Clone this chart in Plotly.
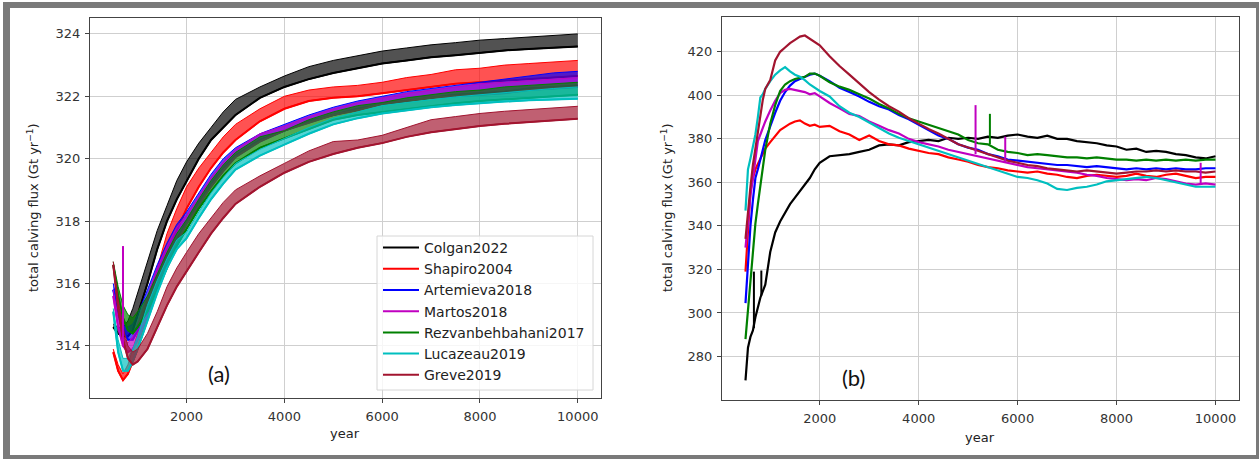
import plotly.graph_objects as go

# ---------------- data ----------------
names = ["Colgan2022", "Shapiro2004", "Artemieva2018", "Martos2018",
         "Rezvanbehbahani2017", "Lucazeau2019", "Greve2019"]
colors = ["#000000", "#ff0000", "#0000ff", "#c000c0", "#008000", "#00bfbf", "#a2142f"]
fill_rgba = ["rgba(0,0,0,0.68)", "rgba(255,0,0,0.68)", "rgba(0,0,255,0.68)", "rgba(192,0,192,0.68)",
             "rgba(0,128,0,0.68)", "rgba(0,191,191,0.68)", "rgba(162,20,47,0.68)"]

# panel (a): lower (base) curve and upper envelope of the spiky series
years_a = [500, 600, 700, 800, 900, 1000, 1200, 1400, 1600, 1800, 2000, 2250, 2500, 2750,
           3000, 3500, 4000, 4500, 5000, 5500, 6000, 6500, 7000, 7500, 8000, 8500, 9000,
           9500, 10000]
colgan_a_base = [314.6, 314.4, 314.3, 314.3, 314.5, 315.0, 316.0, 317.1, 318.0, 318.7, 319.3, 320.0,
                 320.6, 321.0, 321.4, 321.95, 322.3, 322.55, 322.75, 322.9, 323.05, 323.15, 323.25,
                 323.32, 323.4, 323.47, 323.52, 323.57, 323.6]
colgan_a_top = [314.7, 314.6, 314.6, 314.8, 315.2, 315.7, 316.7, 317.7, 318.5, 319.3, 319.9, 320.5,
                321.0, 321.5, 321.9, 322.3, 322.65, 322.95, 323.15, 323.3, 323.45, 323.55, 323.65,
                323.72, 323.8, 323.85, 323.9, 323.95, 324.0]
shapiro_a_base = [313.8, 313.2, 312.9, 313.1, 313.5, 313.9, 314.9, 315.8, 316.8, 317.7, 318.4, 319.1,
                  319.7, 320.2, 320.6, 321.2, 321.6, 321.85, 321.95, 322.0, 322.1, 322.2, 322.3,
                  322.4, 322.45, 322.5, 322.55, 322.6, 322.65]
shapiro_a_top = [313.9, 313.4, 313.1, 313.4, 313.9, 314.4, 315.5, 316.5, 317.6, 318.4, 319.1, 319.7,
                 320.2, 320.7, 321.1, 321.6, 322.0, 322.2, 322.3, 322.35, 322.45, 322.6, 322.7,
                 322.85, 322.9, 323.0, 323.05, 323.1, 323.15]
artemieva_a_base = [315.8, 315.0, 314.5, 314.2, 314.2, 314.5, 315.2, 316.0, 316.7, 317.4, 318.0, 318.6,
                    319.2, 319.7, 320.1, 320.6, 320.9, 321.2, 321.4, 321.6, 321.75, 321.85, 321.95,
                    322.05, 322.1, 322.15, 322.25, 322.3, 322.35]
artemieva_a_top = [316.0, 315.3, 314.8, 314.6, 314.7, 315.0, 315.8, 316.6, 317.3, 317.9, 318.3, 318.9,
                   319.5, 320.0, 320.35, 320.8, 321.1, 321.4, 321.65, 321.85, 322.0, 322.15, 322.25,
                   322.35, 322.45, 322.55, 322.65, 322.75, 322.8]
martos_a_base = [315.6, 314.6, 314.0, 313.8, 313.9, 314.2, 315.0, 315.9, 316.6, 317.3, 317.9, 318.5,
                 319.1, 319.6, 320.05, 320.55, 320.9, 321.15, 321.4, 321.55, 321.75, 321.85, 321.95,
                 322.0, 322.05, 322.1, 322.2, 322.25, 322.3]
martos_a_top = [315.8, 314.9, 314.3, 314.1, 314.3, 314.7, 315.6, 316.5, 317.2, 317.8, 318.2, 318.8,
                319.4, 319.9, 320.3, 320.8, 321.05, 321.35, 321.6, 321.8, 321.95, 322.1, 322.2,
                322.3, 322.4, 322.45, 322.5, 322.55, 322.6]
rezvan_a_base = [316.6, 315.6, 314.9, 314.5, 314.4, 314.6, 315.1, 315.8, 316.5, 317.2, 317.75, 318.4,
                 318.95, 319.45, 319.85, 320.35, 320.65, 320.95, 321.25, 321.4, 321.5, 321.6, 321.7,
                 321.78, 321.85, 321.9, 321.95, 322.0, 322.05]
rezvan_a_top = [316.7, 315.9, 315.3, 315.0, 314.9, 315.1, 315.6, 316.3, 317.0, 317.6, 318.05, 318.7,
                319.3, 319.8, 320.2, 320.7, 320.9, 321.25, 321.5, 321.7, 321.8, 321.95, 322.05,
                322.15, 322.2, 322.3, 322.35, 322.4, 322.45]
lucazeau_a_base = [315.1, 313.8, 313.2, 313.2, 313.5, 313.9, 314.8, 315.7, 316.5, 317.1, 317.45, 318.1,
                   318.7, 319.2, 319.65, 320.1, 320.45, 320.8, 321.1, 321.3, 321.45, 321.55, 321.65,
                   321.72, 321.78, 321.83, 321.87, 321.9, 321.92]
lucazeau_a_top = [315.2, 314.2, 313.6, 313.6, 313.9, 314.3, 315.3, 316.1, 316.8, 317.4, 317.65, 318.3,
                  318.9, 319.4, 319.85, 320.3, 320.65, 321.0, 321.3, 321.5, 321.7, 321.8, 321.9,
                  321.98, 322.05, 322.12, 322.18, 322.25, 322.3]
greve_a_base = [316.6, 315.2, 314.2, 313.6, 313.4, 313.5, 313.9, 314.6, 315.3, 315.9, 316.4, 317.0,
                317.6, 318.1, 318.55, 319.1, 319.55, 319.9, 320.15, 320.35, 320.5, 320.7, 320.85,
                320.95, 321.05, 321.12, 321.18, 321.22, 321.28]
greve_a_top = [316.7, 315.5, 314.6, 314.0, 313.8, 313.9, 314.4, 315.1, 315.9, 316.5, 317.0, 317.6,
               318.1, 318.6, 319.0, 319.45, 319.85, 320.25, 320.55, 320.6, 320.75, 321.0, 321.25,
               321.35, 321.45, 321.52, 321.58, 321.63, 321.68]
bases_a = [colgan_a_base, shapiro_a_base, artemieva_a_base, martos_a_base,
           rezvan_a_base, lucazeau_a_base, greve_a_base]
tops_a = [colgan_a_top, shapiro_a_top, artemieva_a_top, martos_a_top,
          rezvan_a_top, lucazeau_a_top, greve_a_top]
# isolated spikes in panel (a): (series index, year, base, top)
spikes_a = [(3, 700, 314.0, 317.2)]

# panel (b)
years_b = [500, 550, 600, 650, 700, 750, 800, 850, 900, 1000, 1100, 1200, 1300, 1400, 1500, 1600,
           1700, 1800, 1900, 2000, 2200, 2400, 2600, 2800, 3000, 3200, 3400, 3600, 3800, 4000,
           4200, 4400, 4600, 4800, 5000, 5200, 5400, 5600, 5800, 6000, 6200, 6400, 6600, 6800,
           7000, 7200, 7400, 7600, 7800, 8000, 8200, 8400, 8600, 8800, 9000, 9200, 9400, 9600,
           9800, 10000]
colgan_b = [269, 284, 289, 292, 298, 303, 307, 310, 313, 328, 337, 342, 346, 350, 353, 356, 359, 362,
            366, 369, 372, 372.5, 373, 374, 375, 377, 377.5, 377, 378.5, 379, 379.5, 379, 380.5, 380,
            380.5, 380, 381, 380.5, 381.5, 382, 381, 380.5, 381.5, 380, 380, 379, 378.5, 378, 377,
            376.5, 375, 375.5, 374, 374.5, 374, 373, 372.5, 371.5, 371, 372]
shapiro_b = [319, 340, 356, 362, 366, 368.5, 371, 373, 375.5, 378.5, 381.5, 384, 385.5, 387, 388, 388.5,
             387, 386, 386.5, 385.5, 386, 383.5, 382, 379.5, 381.5, 379, 377.5, 377, 375.5, 374.5,
             373.5, 373, 371.5, 370.5, 369.5, 368, 367, 366.5, 365.5, 365, 364.5, 365, 364, 363.5,
             362.5, 362, 363, 363.5, 363, 362.5, 363, 364, 363, 362.5, 363.5, 364, 363, 362, 362.5, 362.5]
artemieva_b = [304.5, 322, 340, 352, 362, 366, 370, 375, 379.5, 386, 392, 397.5, 401.5, 404.5, 406.5,
               407.5, 408.5, 409.5, 410, 409, 406.5, 403.5, 401.5, 399.5, 397, 395, 393.5, 391, 389,
               386.5, 384, 381.5, 380, 377.5, 376, 375, 373, 372, 370.5, 370, 369.5, 369, 368.5, 368,
               368, 367.5, 367, 367.5, 367, 366.5, 366, 366.5, 366, 366.5, 366, 366.5, 366, 366, 366.5, 366.5]
martos_b = [330, 343, 354, 362, 372, 379, 382, 385, 388, 393, 397.5, 401, 402.5, 403, 402.5, 402, 401.5,
            400.5, 401, 399.5, 396.5, 394, 391.5, 390.5, 388, 386, 384, 382.5, 380, 378.5, 377.5, 376.5,
            375, 374, 373, 372, 371, 370, 369, 368, 367, 366.5, 366, 365.5, 365, 364.5, 363.5, 363,
            362, 361.5, 361, 361.5, 361, 362, 361.5, 360.5, 359.5, 359, 359.5, 359]
rezvan_b = [288, 302, 317, 330, 341, 350, 358, 367, 375, 387, 395.5, 402, 405, 406.5, 407.5, 408, 408.5,
            410, 410, 409, 406, 404, 402.5, 400.5, 398.5, 396, 394, 391.5, 389.5, 388, 386.5, 385,
            383.5, 382, 379.5, 378, 377.5, 375, 374, 373.5, 372.5, 373, 372.5, 372, 371.5, 371.5, 371,
            371.5, 371, 370.5, 370.5, 370, 370.5, 370, 370.5, 370, 370.5, 370, 370.5, 370.5]
lucazeau_b = [347, 366, 371, 376, 382, 390, 399, 400.5, 403, 406.5, 409.5, 411.5, 413, 411, 409.5, 408.5,
              407, 405, 403.5, 402, 399.5, 395, 392, 390, 387.5, 385, 382.5, 380.5, 379, 377.5, 376,
              374.5, 373, 371.5, 370, 368.5, 367, 365.5, 364, 362.5, 362, 361, 359.5, 357, 356.5,
              357.5, 358, 359, 360.5, 361, 361.5, 362, 362.5, 362, 361, 360, 359, 358, 358, 358]
greve_b = [334, 348, 358, 368, 376, 382, 390, 398, 403, 407, 416, 420, 422, 424, 425.5, 427, 427.5, 426,
           424.5, 423, 418, 413.5, 409.5, 405.5, 401.5, 398, 395, 392.5, 389.5, 387, 384.5, 382.5, 380,
           377.5, 376, 374.5, 373, 371.5, 370, 369, 368, 367.5, 366.5, 366, 365.5, 365, 365.5, 365,
           364.5, 364, 364.5, 365, 365, 365.5, 365, 365.5, 365, 365, 364.5, 365]
series_b = [colgan_b, shapiro_b, artemieva_b, martos_b, rezvan_b, lucazeau_b, greve_b]
# isolated spikes in panel (b): (series index, year, base, top)
spikes_b = [(0, 670, 293, 319), (0, 820, 308, 319.5), (3, 5150, 373, 395.5),
            (4, 5440, 377.5, 391.5), (3, 5750, 369, 381), (3, 9700, 359, 369)]

xrange_all = [25, 10475]
yrange_a = [312.33, 324.51]
yrange_b = [260, 436]
ytick_a = [314, 316, 318, 320, 322, 324]
ytick_b = [280, 300, 320, 340, 360, 380, 400, 420]
xtick = [2000, 4000, 6000, 8000, 10000]
ylabel = "total calving flux (Gt yr<sup>\u22121</sup>)"
xlabel = "year"

# ---------------- figure ----------------
W, H = 1259, 459
fig = go.Figure()

for i, name in enumerate(names):
    c = colors[i]
    fig.add_trace(go.Scatter(x=years_a, y=tops_a[i], mode="lines", line=dict(color=c, width=1),
                             showlegend=False, hoverinfo="skip", xaxis="x", yaxis="y"))
    fig.add_trace(go.Scatter(x=years_a, y=bases_a[i], mode="lines", line=dict(color=c, width=1.5),
                             fill="tonexty", fillcolor=fill_rgba[i],
                             showlegend=False, hoverinfo="skip", xaxis="x", yaxis="y"))
    fig.add_trace(go.Scatter(x=years_a, y=bases_a[i], mode="lines", name=name,
                             line=dict(color=c, width=2), showlegend=True,
                             xaxis="x", yaxis="y"))

for (si, yr, b, t) in spikes_a:
    fig.add_trace(go.Scatter(x=[yr, yr], y=[b, t], mode="lines",
                             line=dict(color=colors[si], width=2), showlegend=False,
                             xaxis="x", yaxis="y"))

for i, name in enumerate(names):
    fig.add_trace(go.Scatter(x=years_b, y=series_b[i], mode="lines", name=name,
                             line=dict(color=colors[i], width=2.2), showlegend=False,
                             xaxis="x2", yaxis="y2"))
for (si, yr, b, t) in spikes_b:
    fig.add_trace(go.Scatter(x=[yr, yr], y=[b, t], mode="lines",
                             line=dict(color=colors[si], width=2), showlegend=False,
                             xaxis="x2", yaxis="y2"))

tickfont = dict(family="DejaVu Sans", size=13, color="#333333")
axcommon = dict(showgrid=True, gridcolor="#cfcfcf", gridwidth=1, showline=True, linecolor="#444444",
                linewidth=1, mirror=True, ticks="outside", ticklen=4, tickcolor="#444444",
                tickfont=tickfont, zeroline=False, tickformat="d", ticklabelstandoff=2)

fig.update_layout(
    width=W, height=H, margin=dict(l=0, r=0, t=0, b=0),
    paper_bgcolor="white", plot_bgcolor="white",
    xaxis=dict(domain=[90 / W, 601 / W], range=xrange_all, tickvals=xtick, anchor="y", **axcommon),
    yaxis=dict(domain=[1 - 398 / H, 1 - 18 / H], range=yrange_a, tickvals=ytick_a, anchor="x", **axcommon),
    xaxis2=dict(domain=[722 / W, 1239 / W], range=xrange_all, tickvals=xtick, anchor="y2", **axcommon),
    yaxis2=dict(domain=[1 - 400 / H, 1 - 17 / H], range=yrange_b, tickvals=ytick_b, anchor="x2", **axcommon),
    legend=dict(x=378 / W, y=1 - 232 / H, xanchor="left", yanchor="top", traceorder="normal",
                bgcolor="rgba(0,0,0,0)", borderwidth=0,
                font=dict(family="DejaVu Sans", size=14, color="#222222"),
                itemwidth=36, tracegroupgap=0),
    showlegend=True,
)

ann = []
def add_text(text, x, y, size, family="DejaVu Sans", angle=0, color="#222222"):
    ann.append(dict(text=text, x=x / W, y=1 - y / H, xref="paper", yref="paper", textangle=angle,
                    xanchor="center", yanchor="middle", showarrow=False,
                    font=dict(family=family, size=size, color=color)))

add_text(ylabel, 33, 208, 13, angle=-90)
add_text(ylabel, 667, 208, 13, angle=-90)
add_text(xlabel, 345, 433, 13)
add_text(xlabel, 980, 437, 13)
add_text("(a)", 219, 373, 22, family="Lato", color="#111111")
add_text("(b)", 853, 377, 22, family="Lato", color="#111111")
fig.update_layout(annotations=ann)

# outer grey frame + legend box
gray = "#7a7a7a"
shapes = [
    dict(type="rect", xref="paper", yref="paper", x0=377 / W, x1=593 / W, y0=1 - 390 / H, y1=1 - 236 / H,
         fillcolor="rgba(255,255,255,0.8)", line=dict(color="#d6d6d6", width=1), layer="above"),
    dict(type="rect", xref="paper", yref="paper", x0=3 / W, x1=1, y0=1 - 8 / H, y1=1 - 2 / H,
         fillcolor=gray, line=dict(width=0), layer="above"),
    dict(type="rect", xref="paper", yref="paper", x0=3 / W, x1=10 / W, y0=0, y1=1 - 2 / H,
         fillcolor=gray, line=dict(width=0), layer="above"),
    dict(type="rect", xref="paper", yref="paper", x0=3 / W, x1=1, y0=0, y1=4 / H,
         fillcolor=gray, line=dict(width=0), layer="above"),
    dict(type="rect", xref="paper", yref="paper", x0=1256 / W, x1=1, y0=0, y1=1 - 2 / H,
         fillcolor=gray, line=dict(width=0), layer="above"),
]
fig.update_layout(shapes=shapes)

fig.write_html("out.html", config={"displayModeBar": False},
               post_script="document.body.style.margin='0px';document.body.style.overflow='hidden';")
